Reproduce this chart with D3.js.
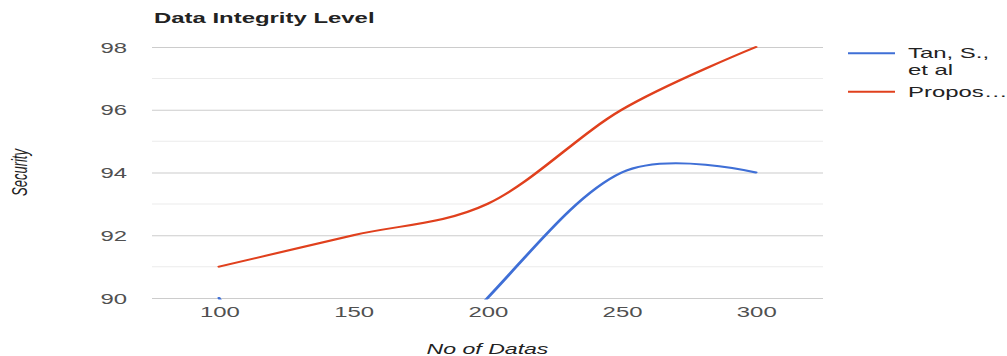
<!DOCTYPE html>
<html>
<head>
<meta charset="utf-8">
<script src="https://cdn.jsdelivr.net/npm/d3@7"></script>
<style>
  html, body { margin: 0; padding: 0; background: #fff; overflow: hidden; }
  svg { display: block; }
  text { font-family: Arial, "Liberation Sans", sans-serif; }
</style>
</head>
<body>
<svg id="chart"></svg>
<script>
// ---- data ----
const categories = [100, 150, 200, 250, 300];
const seriesNames = ["Tan, S., et al", "Proposed"];
const legendLines = [["Tan, S.,", "et al"], ["Propos\u2026"]];
const tanValues = [90, 85, 90, 94, 94];
const proposedValues = [91, 92, 93, 96, 98];
const yTicks = [90, 92, 94, 96, 98];
const yMinorTicks = [91, 93, 95, 97];
const xTicks = [100, 150, 200, 250, 300];
const colors = ["#3f6fd6", "#e0401d"];

// ---- layout (original chart is stretched horizontally) ----
const W = 1007, H = 356, SX = 1.65;
const VW = W / SX;
const svg = d3.select("#chart")
  .attr("width", W).attr("height", H)
  .attr("viewBox", `0 0 ${VW} ${H}`)
  .attr("preserveAspectRatio", "none");

const plot = { left: 152 / SX, right: 823 / SX, top: 47, bottom: 298 };
const x = d3.scaleLinear().domain([75, 325]).range([plot.left, plot.right]);
const y = d3.scaleLinear().domain([90, 98]).range([plot.bottom, plot.top]);

// minor gridlines
svg.append("g").selectAll("line").data(yMinorTicks).join("line")
  .attr("x1", plot.left).attr("x2", plot.right)
  .attr("y1", d => y(d)).attr("y2", d => y(d))
  .attr("stroke", "#ebebeb").attr("stroke-width", 1);

// y axis (major gridlines + labels)
const yAxis = d3.axisLeft(y).tickValues(yTicks).tickSize(-(plot.right - plot.left));
const gy = svg.append("g").attr("transform", `translate(${plot.left},0)`).call(yAxis);
gy.select(".domain").remove();
gy.selectAll(".tick line").attr("stroke", "#cccccc").attr("stroke-width", 1);
gy.selectAll(".tick text")
  .attr("x", 127 / SX - plot.left)
  .attr("dy", "0.36em")
  .attr("fill", "#505050").attr("font-size", 14.5).attr("text-anchor", "end");

// x axis labels
const xAxis = d3.axisBottom(x).tickValues(xTicks).tickSize(0).tickFormat(d3.format("d"));
const gx = svg.append("g").attr("transform", `translate(0,${plot.bottom})`).call(xAxis);
gx.select(".domain").remove();
gx.selectAll(".tick text")
  .attr("y", 19.3).attr("dy", 0)
  .attr("fill", "#505050").attr("font-size", 14.5);

// clip
svg.append("clipPath").attr("id", "clip").append("rect")
  .attr("x", plot.left).attr("y", plot.top - 3)
  .attr("width", plot.right - plot.left).attr("height", plot.bottom - plot.top + 4.5);

const line = d3.line()
  .x((d, i) => x(categories[i]))
  .y(d => y(d))
  .curve(d3.curveCardinal.tension(0));

const series = [tanValues, proposedValues];
svg.append("g").attr("clip-path", "url(#clip)")
  .selectAll("path").data(series).join("path")
  .attr("d", d => line(d))
  .attr("fill", "none")
  .attr("stroke", (d, i) => colors[i])
  .attr("stroke-width", 2)
  .attr("stroke-linecap", "round");

// title
svg.append("text").attr("x", 154 / SX).attr("y", 23.3)
  .attr("font-size", 14.5).attr("font-weight", "bold").attr("fill", "#222")
  .text("Data Integrity Level");

// axis titles
svg.append("text").attr("x", (plot.left + plot.right) / 2).attr("y", 354)
  .attr("text-anchor", "middle").attr("font-style", "italic")
  .attr("font-size", 14).attr("fill", "#222").text("No of Datas");

svg.append("text")
  .attr("transform", `translate(${27 / SX},${(plot.top + plot.bottom) / 2}) rotate(-90)`)
  .attr("text-anchor", "middle").attr("font-style", "italic")
  .attr("font-size", 13).attr("fill", "#222").text("Security");

// legend
const legendY = [53.3, 91.7];
const lg = svg.append("g");
seriesNames.forEach((name, i) => {
  lg.append("line")
    .attr("x1", 848 / SX).attr("x2", 895 / SX)
    .attr("y1", legendY[i]).attr("y2", legendY[i])
    .attr("stroke", colors[i]).attr("stroke-width", 2);
  const t = lg.append("text").attr("x", 908 / SX).attr("y", legendY[i] + 5)
    .attr("font-size", 14.5).attr("fill", "#222");
  legendLines[i].forEach((s, j) => {
    t.append("tspan").attr("x", 908 / SX).attr("dy", j === 0 ? 0 : 17).text(s);
  });
  t.append("title").text(name);
});
</script>
</body>
</html>
